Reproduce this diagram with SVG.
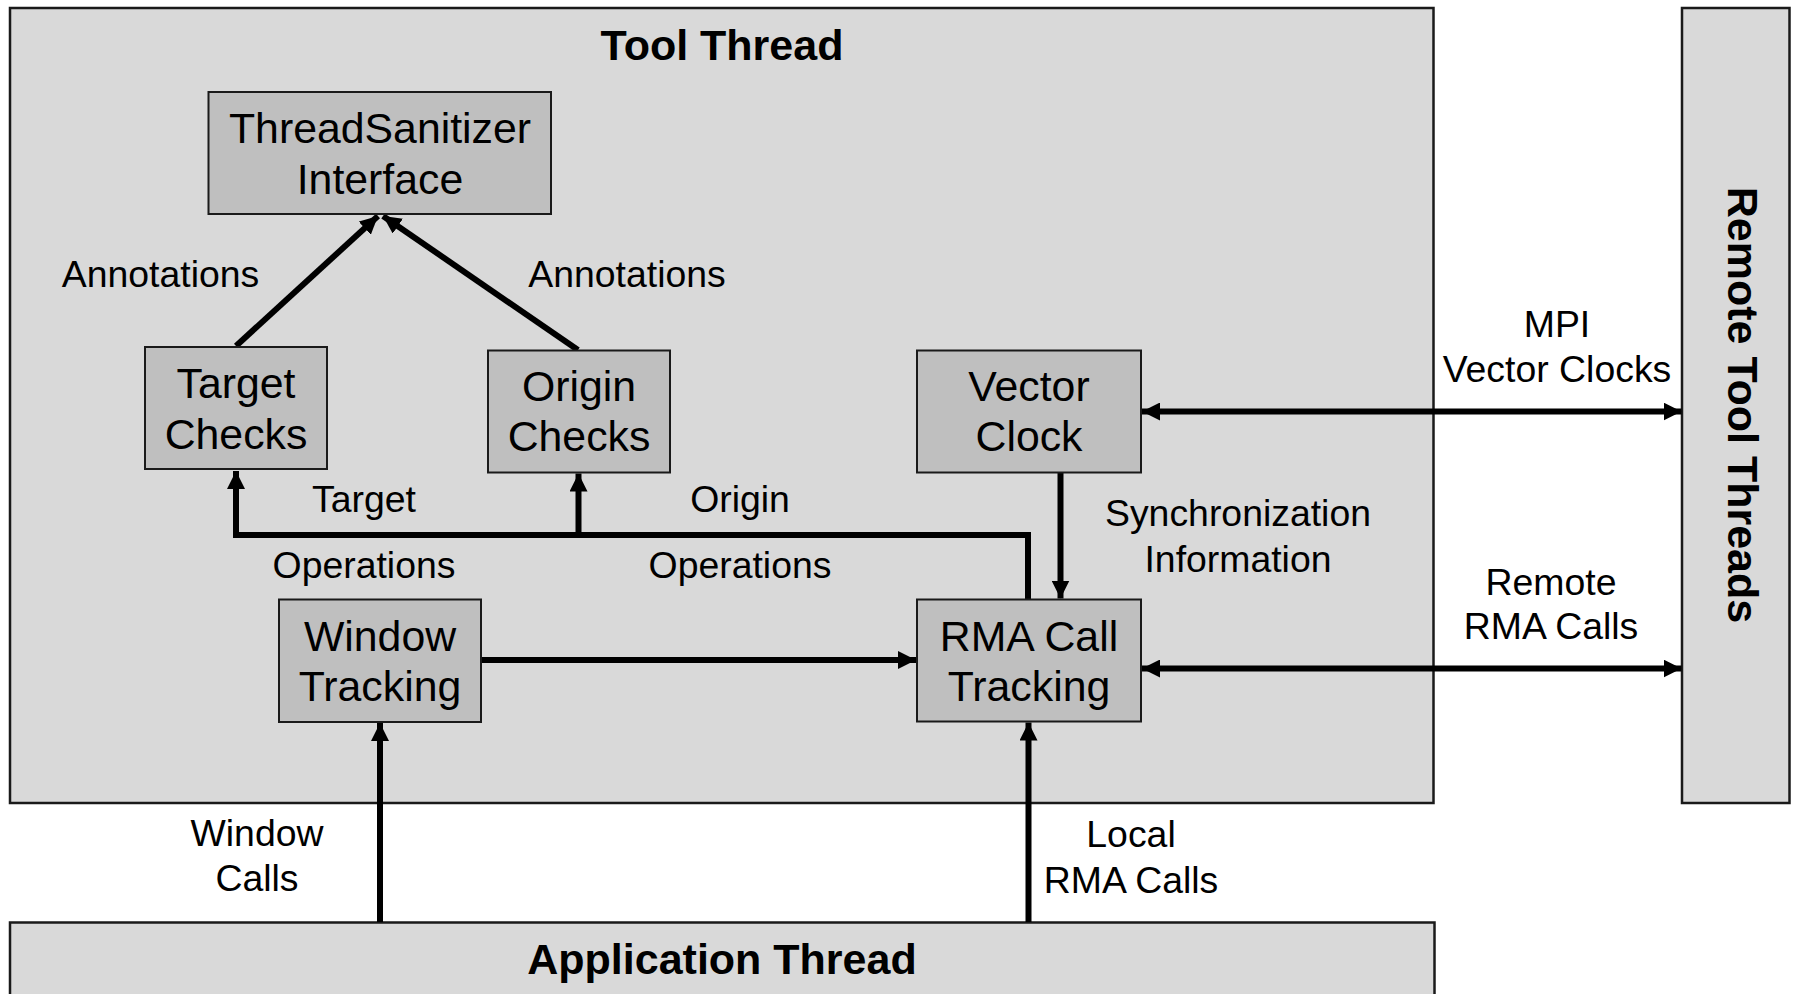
<svg xmlns="http://www.w3.org/2000/svg" width="1793" height="994" viewBox="0 0 1793 994">
  <style>
    .region { fill: #d9d9d9; stroke: #1a1a1a; stroke-width: 2.5; }
    .node rect { fill: #bfbfbf; stroke: #1a1a1a; stroke-width: 2; }
    .node text { font-family: "Liberation Sans", Arial, sans-serif; font-size: 42.8px; fill: #000; text-anchor: middle; }
    .title { font-family: "Liberation Sans", Arial, sans-serif; font-size: 43px; font-weight: bold; fill: #000; text-anchor: middle; }
    .label { font-family: "Liberation Sans", Arial, sans-serif; font-size: 37.4px; fill: #000; text-anchor: middle; }
    .wire { fill: none; stroke: #000; stroke-width: 6; }
  </style>
  <defs>
    <marker id="head" markerUnits="userSpaceOnUse" markerWidth="18" markerHeight="18" refX="16" refY="8" orient="auto-start-reverse" viewBox="0 0 16 16">
      <path d="M0,0 L16,8 L0,16 z" fill="#000"/>
    </marker>
  </defs>

  <rect width="1793" height="994" fill="#fff"/>

  <!-- thread regions -->
  <g id="tool-thread">
    <rect class="region" x="10" y="8" width="1423.5" height="795"/>
    <text class="title" x="722" y="59.5">Tool Thread</text>
  </g>
  <g id="remote-tool-threads">
    <rect class="region" x="1682" y="8" width="107.5" height="795"/>
    <text class="title" x="1728" y="405" transform="rotate(90 1728 405)">Remote Tool Threads</text>
  </g>
  <g id="application-thread">
    <rect class="region" x="10" y="922.5" width="1424.5" height="90"/>
    <text class="title" x="722" y="973.5">Application Thread</text>
  </g>

  <!-- connectors -->
  <g id="connectors">
    <path class="wire" d="M236,346 L378,216" marker-end="url(#head)"/>
    <path class="wire" d="M578,350 L383,216" marker-end="url(#head)"/>
    <path class="wire" d="M1028,599 V535 H236 V471" marker-end="url(#head)"/>
    <path class="wire" d="M578.5,535 V473.5" marker-end="url(#head)"/>
    <path class="wire" d="M1060.5,473 V598.5" marker-end="url(#head)"/>
    <path class="wire" d="M481,660 H916" marker-end="url(#head)"/>
    <path class="wire" d="M1142,411.5 H1681.5" marker-start="url(#head)" marker-end="url(#head)"/>
    <path class="wire" d="M1142,668.5 H1681.5" marker-start="url(#head)" marker-end="url(#head)"/>
    <path class="wire" d="M380,922 V723" marker-end="url(#head)"/>
    <path class="wire" d="M1028.5,922 V722.5" marker-end="url(#head)"/>

    <text class="label" x="160.5" y="287">Annotations</text>
    <text class="label" x="627" y="287">Annotations</text>
    <text class="label" x="364" y="511.5">Target</text>
    <text class="label" x="364" y="577.5">Operations</text>
    <text class="label" x="740" y="511.5">Origin</text>
    <text class="label" x="740" y="577.5">Operations</text>
    <text class="label" x="1238" y="526">Synchronization</text>
    <text class="label" x="1238" y="571.5">Information</text>
    <text class="label" x="1557" y="337">MPI</text>
    <text class="label" x="1557" y="381.5">Vector Clocks</text>
    <text class="label" x="1551" y="595">Remote</text>
    <text class="label" x="1551" y="638.5">RMA Calls</text>
    <text class="label" x="257" y="846">Window</text>
    <text class="label" x="257" y="891">Calls</text>
    <text class="label" x="1131" y="847">Local</text>
    <text class="label" x="1131" y="893">RMA Calls</text>
  </g>

  <!-- tool components -->
  <g id="tsan-interface" class="node">
    <rect x="208.5" y="92" width="342.5" height="122"/>
    <text x="380" y="143">ThreadSanitizer</text>
    <text x="380" y="193.5">Interface</text>
  </g>
  <g id="target-checks" class="node">
    <rect x="145" y="347" width="182" height="122"/>
    <text x="236" y="397.5">Target</text>
    <text x="236" y="448.5">Checks</text>
  </g>
  <g id="origin-checks" class="node">
    <rect x="488" y="350.5" width="182" height="122"/>
    <text x="579" y="401">Origin</text>
    <text x="579" y="451">Checks</text>
  </g>
  <g id="vector-clock" class="node">
    <rect x="917" y="350.5" width="224" height="122"/>
    <text x="1029" y="401">Vector</text>
    <text x="1029" y="451">Clock</text>
  </g>
  <g id="window-tracking" class="node">
    <rect x="279" y="599.5" width="202" height="122.5"/>
    <text x="380" y="651">Window</text>
    <text x="380" y="701">Tracking</text>
  </g>
  <g id="rma-call-tracking" class="node">
    <rect x="917" y="599.5" width="224" height="122"/>
    <text x="1029" y="650.5">RMA Call</text>
    <text x="1029" y="700.5">Tracking</text>
  </g>
</svg>
